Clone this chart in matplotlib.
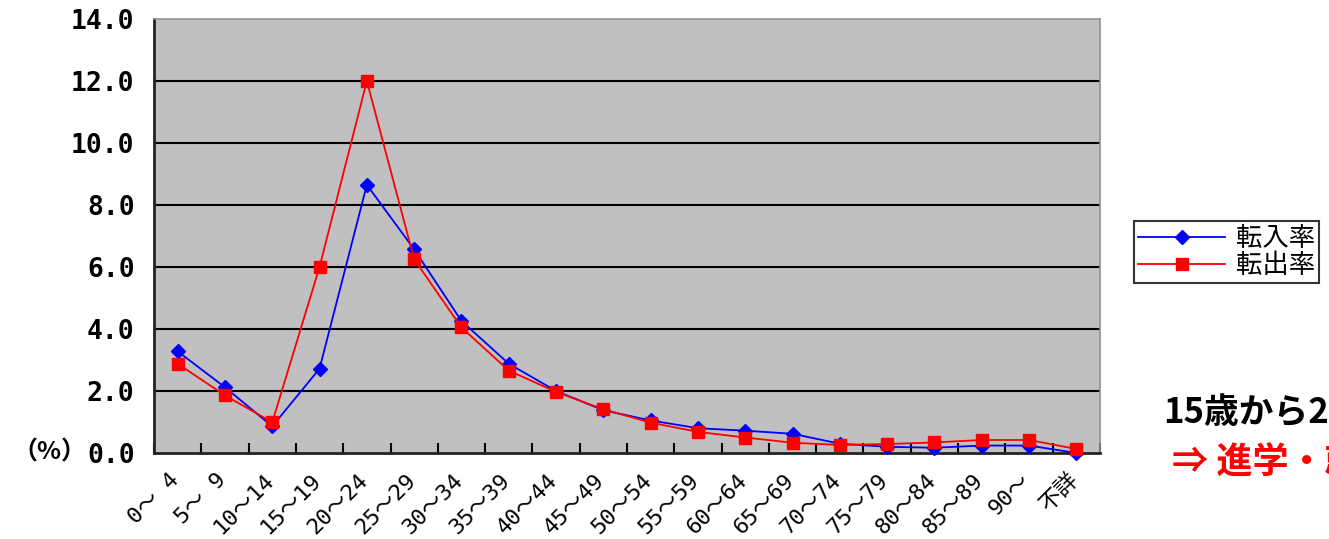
import matplotlib.pyplot as plt
import matplotlib.transforms as mtransforms
import numpy as np

plt.rcParams['font.family'] = ['Noto Sans CJK JP', 'DejaVu Sans']

# 年齢階級別の転入率・転出率 (%)
age_groups = ['0～ 4', '5～ 9', '10～14', '15～19', '20～24', '25～29', '30～34',
              '35～39', '40～44', '45～49', '50～54', '55～59', '60～64', '65～69',
              '70～74', '75～79', '80～84', '85～89', '90～', '不詳']
tennyu = [3.28, 2.12, 0.86, 2.72, 8.65, 6.57, 4.26, 2.88, 2.0, 1.38,
          1.05, 0.8, 0.72, 0.62, 0.3, 0.2, 0.17, 0.24, 0.24, 0.0]
tenshutsu = [2.88, 1.86, 0.99, 6.0, 12.0, 6.25, 4.05, 2.66, 1.97, 1.41,
             0.98, 0.68, 0.5, 0.33, 0.26, 0.29, 0.34, 0.42, 0.42, 0.13]
series_names = ['転入率', '転出率']
yticks = [0, 2, 4, 6, 8, 10, 12, 14]

fig = plt.figure(figsize=(13.29, 5.39), dpi=100)
ax = fig.add_axes([154 / 1329, 86 / 539, 946 / 1329, 434 / 539])
ax.set_facecolor('#c0c0c0')

x = np.arange(len(age_groups))
ax.plot(x, tennyu, color='#0000ff', lw=1.3, marker='D', ms=7,
        mfc='#0000ff', mec='#0000ff', label=series_names[0], zorder=3,
        clip_on=False)
ax.plot(x, tenshutsu, color='#ff0000', lw=1.3, marker='s', ms=9,
        mfc='#ff0000', mec='#ff0000', label=series_names[1], zorder=4,
        clip_on=False)

ax.set_xlim(-0.5, len(age_groups) - 0.5)
ax.set_ylim(0, 14)

# horizontal grid
for v in yticks[1:-1]:
    ax.axhline(v, color='black', lw=1.5, zorder=1)

ax.set_yticks(yticks)
ax.set_yticklabels([f'{v:.1f}' for v in yticks], fontsize=19,
                   fontweight='bold', family='DejaVu Sans Mono')
ax.tick_params(axis='y', length=0, pad=14)

# category boundaries get the tick marks, labels sit at the centres
ax.set_xticks(np.arange(len(age_groups) + 1) - 0.5)
ax.set_xticklabels([])
ax.tick_params(axis='x', direction='in', length=7, width=1.5)
ax.set_xticks(x, minor=True)
ax.set_xticklabels(age_groups, minor=True, rotation=45, ha='right',
                   va='top', fontsize=16, rotation_mode='anchor',
                   family=['DejaVu Sans Mono', 'Noto Sans CJK JP'])
ax.tick_params(axis='x', which='minor', length=0, pad=12)
shift = mtransforms.ScaledTranslation(-9 / 100, 0, fig.dpi_scale_trans)
for lbl in ax.get_xticklabels(minor=True):
    lbl.set_transform(lbl.get_transform() + shift)

for side in ['left', 'bottom']:
    ax.spines[side].set_color('#222222')
    ax.spines[side].set_linewidth(2)
for side in ['top', 'right']:
    ax.spines[side].set_color('#909090')
    ax.spines[side].set_linewidth(1.2)

fig.text(86 / 1329, 1 - 453 / 539, '（%）', fontsize=18, fontweight='bold',
         ha='right', va='center')

leg = fig.legend(loc='upper left', bbox_to_anchor=(1134 / 1329, 1 - 221 / 539),
                 fontsize=19, frameon=True, fancybox=False, edgecolor='black',
                 handlelength=3.3, borderpad=0.15, labelspacing=0.0,
                 handletextpad=0.4, borderaxespad=0)
leg.get_frame().set_linewidth(1.5)

fig.text(1163 / 1329, 1 - 412 / 539, '15歳から24歳', fontsize=25,
         fontweight='bold', ha='left', va='center', color='black')
fig.text(1172 / 1329, 1 - 462 / 539, '⇒ 進学・就職', fontsize=26,
         fontweight='bold', ha='left', va='center', color='#ff0000')

fig.savefig('out.png', dpi=100)
